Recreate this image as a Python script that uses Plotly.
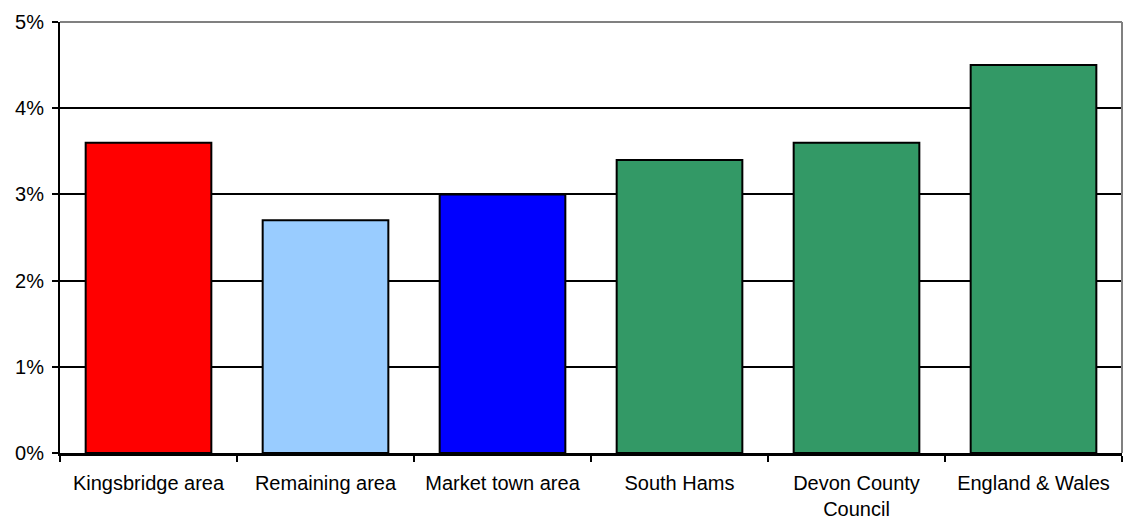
import plotly.graph_objects as go

categories = ["Kingsbridge area", "Remaining area", "Market town area", "South Hams",
              "Devon County<br>Council", "England & Wales"]
values = [0.036, 0.027, 0.030, 0.034, 0.036, 0.045]
colors = ["#FF0000", "#99CCFF", "#0000FF", "#339966", "#339966", "#339966"]
y_ticks = [0, 0.01, 0.02, 0.03, 0.04, 0.05]

fig = go.Figure(go.Bar(
    x=categories, y=values,
    marker=dict(color=colors, line=dict(color="black", width=2)),
    width=0.71,
))

fig.update_layout(
    width=1125, height=519,
    margin=dict(l=60, r=3, t=22, b=66, autoexpand=False),
    plot_bgcolor="white", paper_bgcolor="white",
    font=dict(family="Liberation Sans, Arial", size=20, color="black"),
    showlegend=False,
)
fig.update_yaxes(
    range=[0, 0.05], tickvals=y_ticks, tickformat=".0%",
    showgrid=True, gridcolor="black", gridwidth=2,
    showline=True, linecolor="black", linewidth=2,
    ticks="outside", ticklen=6, tickwidth=2, tickcolor="black",
    zeroline=False, automargin=False, ticklabelstandoff=4,
)
fig.update_xaxes(
    type="category", tickson="boundaries",
    showline=True, linecolor="black", linewidth=3,
    ticks="outside", ticklen=6, tickwidth=2, tickcolor="black",
    showgrid=False, automargin=False, ticklabelstandoff=10,
)
# gray plot-area border on top and right
fig.add_shape(type="line", xref="paper", yref="paper", x0=0, x1=1, y0=1, y1=1,
              line=dict(color="#808080", width=2))
fig.add_shape(type="line", xref="paper", yref="paper", x0=1, x1=1, y0=0, y1=1,
              line=dict(color="#808080", width=2))

fig.write_html("out.html", config={"responsive": False, "displayModeBar": False})

with open("out.html", "r", encoding="utf-8") as f:
    html = f.read()
html = html.replace("<head>", "<head><style>html,body{margin:0;padding:0;overflow:hidden;}</style>", 1)
with open("out.html", "w", encoding="utf-8") as f:
    f.write(html)
